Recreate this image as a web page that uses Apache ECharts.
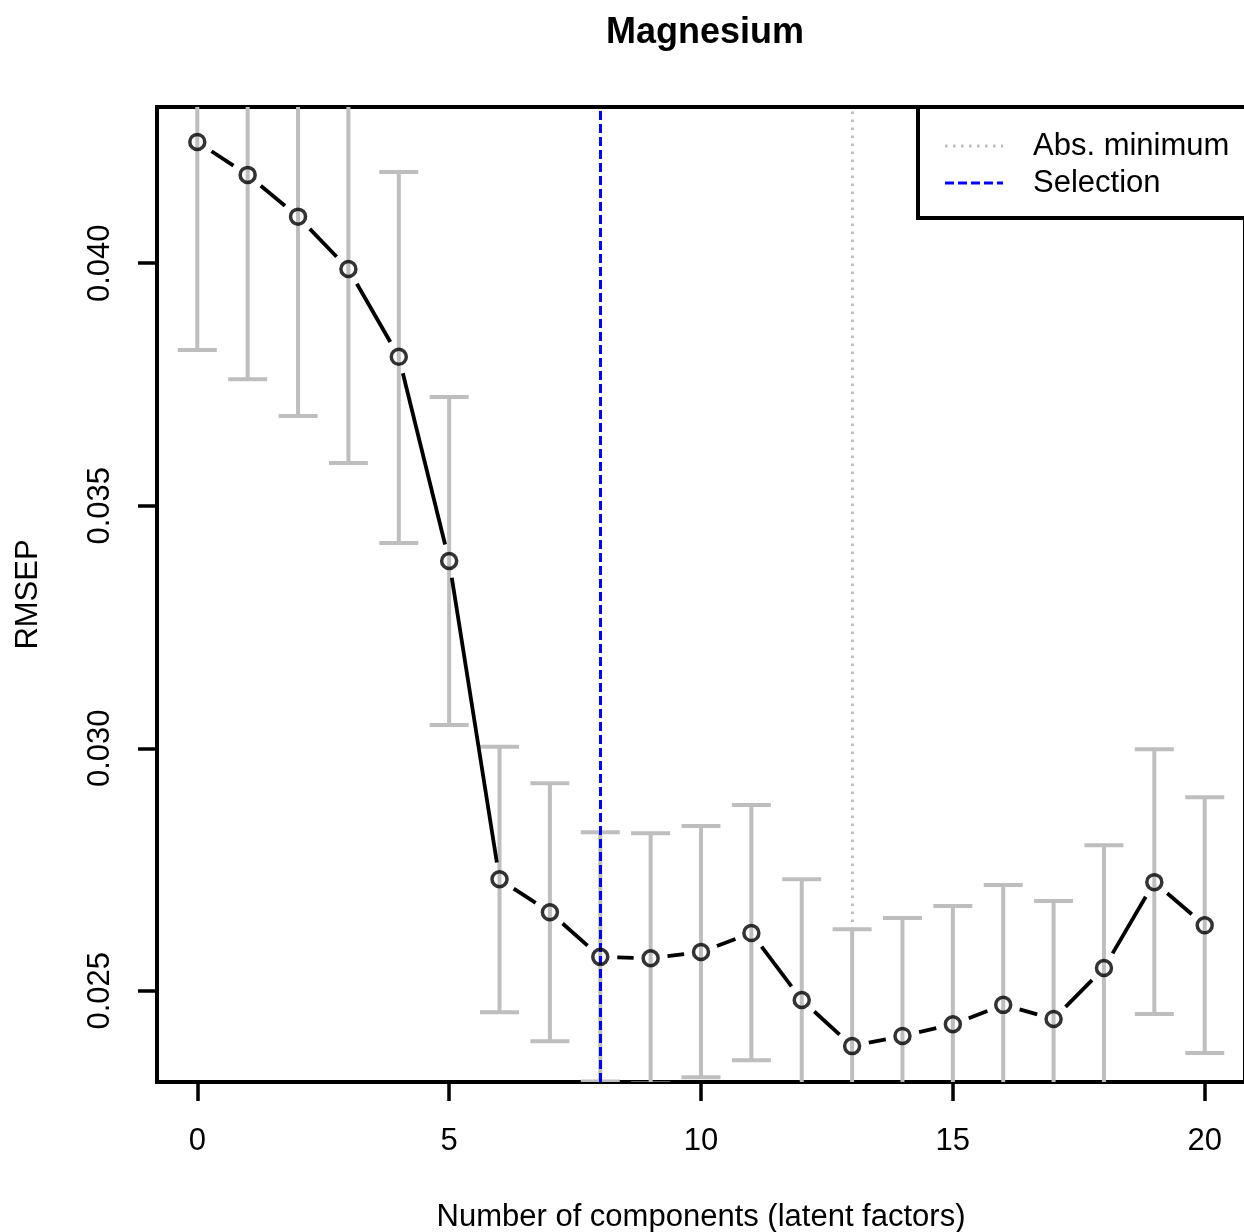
<!DOCTYPE html>
<html>
<head>
<meta charset="utf-8">
<script src="https://cdn.jsdelivr.net/npm/echarts@6/dist/echarts.min.js"></script>
<style>
html,body{margin:0;padding:0;background:#fff;}
#chart{width:1244px;height:1232px;}
</style>
</head>
<body>
<div id="chart"></div>
<script>
// ---- data ----
const components = [0,1,2,3,4,5,6,7,8,9,10,11,12,13,14,15,16,17,18,19,20];
const rmsep = [0.0425,0.04182,0.04096,0.03988,0.03807,0.03386,0.0273,0.02662,0.0257,0.02567,0.0258,0.02619,0.02481,0.02386,0.02407,0.02431,0.02471,0.02442,0.02547,0.02724,0.02635];
const errUpper = [0.04679,0.04603,0.04507,0.04388,0.04188,0.03724,0.03003,0.02928,0.02827,0.02825,0.0284,0.02883,0.0273,0.02627,0.0265,0.02675,0.02718,0.02685,0.028,0.02998,0.02899];
const errLower = [0.03821,0.03761,0.03685,0.03588,0.03423,0.03048,0.02456,0.02396,0.02313,0.02309,0.02322,0.02357,0.02232,0.02145,0.02164,0.02187,0.02224,0.02199,0.02294,0.02452,0.02372];
const xTicks = [0,5,10,15,20];
const yTicks = [0.025,0.030,0.035,0.040];
const selectionComp = 8;
const absMinComp = 13;
const absMinValue = rmsep[absMinComp];
const titleText = 'Magnesium';
const xName = 'Number of components (latent factors)';
const yName = 'RMSEP';
const legendLabels = ['Abs. minimum','Selection'];

// ---- build ----
const FONT = '"Liberation Sans", Arial, sans-serif';
const GRAY = '#BEBEBE';
const FS = 31;
const errData = components.map((c,i)=>[c, errLower[i], errUpper[i]]);
const ptData = components.map((c,i)=>[c, rmsep[i]]);
const segData = components.slice(0,-1).map((c,i)=>[c, rmsep[i], components[i+1], rmsep[i+1]]);

const chart = echarts.init(document.getElementById('chart'), null, {renderer:'canvas'});
const option = {
  animation:false,
  backgroundColor:'#fff',
  title:{
    text:titleText, left:700, top:10, textAlign:'center',
    textStyle:{fontFamily:FONT,fontSize:36,fontWeight:'bold',color:'#000'}
  },
  grid:{
    left:157, top:107, width:1088, height:975,
    outerBoundsMode:'none', containLabel:false,
    show:true, borderColor:'#000', borderWidth:4, backgroundColor:'transparent'
  },
  xAxis:{
    type:'value', min:-0.8, max:20.8,
    name:xName, nameLocation:'middle', nameGap:120,
    nameTextStyle:{fontFamily:FONT,fontSize:FS,color:'#000'},
    axisLine:{show:true,onZero:false,lineStyle:{color:'#000',width:4}},
    axisTick:{show:true,length:19,lineStyle:{color:'#000',width:3.5},customValues:xTicks},
    axisLabel:{show:true,margin:44,fontFamily:FONT,fontSize:FS,color:'#000',customValues:xTicks},
    splitLine:{show:false}
  },
  yAxis:{
    type:'value', min:0.02312, max:0.04322,
    name:yName, nameLocation:'middle', nameGap:113,
    nameTextStyle:{fontFamily:FONT,fontSize:FS,color:'#000'},
    axisLine:{show:true,onZero:false,lineStyle:{color:'#000',width:4}},
    axisTick:{show:true,length:19,lineStyle:{color:'#000',width:3.5},customValues:yTicks},
    axisLabel:{show:true,margin:41,rotate:90,fontFamily:FONT,fontSize:FS,color:'#000',
      customValues:yTicks, formatter:v=>v.toFixed(3)},
    splitLine:{show:false}
  },
  series:[
    {
      type:'custom', name:'error', clip:true, silent:true, z:2,
      data:errData,
      encode:{x:0,y:[1,2]},
      renderItem:function(params, api){
        const x = api.value(0);
        const lo = api.coord([x, api.value(1)]);
        const hi = api.coord([x, api.value(2)]);
        const hw = 19.5;
        const st = {stroke:GRAY, lineWidth:4, fill:null};
        return {type:'group', children:[
          {type:'line', shape:{x1:lo[0],y1:lo[1],x2:hi[0],y2:hi[1]}, style:st},
          {type:'line', shape:{x1:lo[0]-hw,y1:lo[1],x2:lo[0]+hw,y2:lo[1]}, style:st},
          {type:'line', shape:{x1:hi[0]-hw,y1:hi[1],x2:hi[0]+hw,y2:hi[1]}, style:st}
        ]};
      }
    },
    {
      type:'line', name:'refs', data:[], silent:true, z:3,
      markLine:{
        silent:true, symbol:'none', label:{show:false}, animation:false,
        data:[
          {xAxis:absMinComp, lineStyle:{color:GRAY,width:3,type:[2.5,5.5]}},
          {yAxis:absMinValue, lineStyle:{color:GRAY,width:3,type:[2.5,5.5]}},
          {xAxis:selectionComp, lineStyle:{color:'#0000FF',width:3,type:[9,4]}}
        ]
      }
    },
    {
      type:'custom', name:'segments', clip:true, silent:true, z:4,
      data:segData,
      encode:{x:[0,2],y:[1,3]},
      renderItem:function(params, api){
        const p1 = api.coord([api.value(0), api.value(1)]);
        const p2 = api.coord([api.value(2), api.value(3)]);
        const dx = p2[0]-p1[0], dy = p2[1]-p1[1];
        const d = Math.sqrt(dx*dx+dy*dy);
        const gap = 17;
        if (d <= 2*gap) return null;
        const ux = dx/d, uy = dy/d;
        return {type:'line',
          shape:{x1:p1[0]+ux*gap,y1:p1[1]+uy*gap,x2:p2[0]-ux*gap,y2:p2[1]-uy*gap},
          style:{stroke:'#000',lineWidth:3.8}};
      }
    },
    {
      type:'scatter', name:'RMSEP', data:ptData, z:5, silent:true,
      symbol:'circle', symbolSize:15,
      itemStyle:{color:'rgba(0,0,0,0)', borderColor:'#000', borderWidth:3.5}
    }
  ],
  graphic:[
    {type:'rect', z:100, shape:{x:918,y:107,width:330,height:111},
      style:{fill:'#fff',stroke:'#000',lineWidth:4}},
    {type:'line', z:101, shape:{x1:945,y1:146,x2:1003,y2:146},
      style:{stroke:GRAY,lineWidth:3,lineDash:[2.5,5.5]}},
    {type:'line', z:101, shape:{x1:945,y1:183,x2:1003,y2:183},
      style:{stroke:'#0000FF',lineWidth:3,lineDash:[9,4]}},
    {type:'text', z:101, x:1033, y:146,
      style:{text:legendLabels[0],font:FS+'px '+FONT,fill:'#000',textVerticalAlign:'middle',verticalAlign:'middle'}},
    {type:'text', z:101, x:1033, y:183,
      style:{text:legendLabels[1],font:FS+'px '+FONT,fill:'#000',textVerticalAlign:'middle',verticalAlign:'middle'}}
  ]
};
chart.setOption(option);
</script>
</body>
</html>
